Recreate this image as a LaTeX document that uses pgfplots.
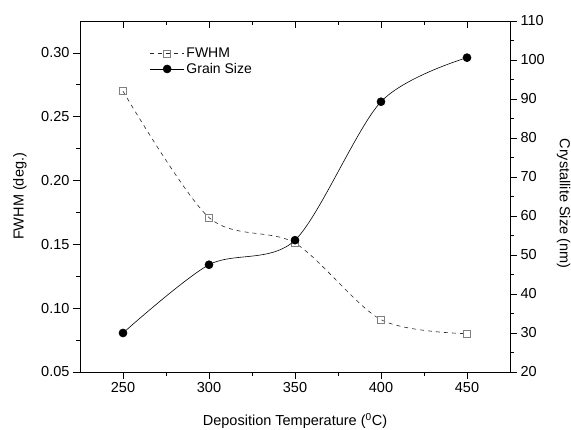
\documentclass[border=0pt]{standalone}
\usepackage{fontspec}
\setmainfont{Liberation Sans}
\usepackage{pgfplots}
\pgfplotsset{compat=1.18}

\pgfplotsset{
  common/.style={
    width=430pt, height=351pt, scale only axis,
    xmin=225, xmax=475,
    xtick={250,300,350,400,450},
    minor x tick num=1,
    tick style={black, line width=0.8pt},
    major tick length=7pt, minor tick length=4pt,
    axis line style={black, line width=0.9pt},
    ticklabel style={font=\fontsize{14.5}{14.5}\selectfont},
    label style={font=\fontsize{14.5}{14.5}\selectfont},
    /pgf/number format/assume math mode=true,
  },
  fwhm/.style={black!85, line width=0.6pt, dash pattern=on 4pt off 4pt, smooth,
    mark=square, mark size=3.5pt, mark options={solid, draw=black!50, fill=white, line width=0.7pt}},
  grain/.style={black, line width=0.6pt, smooth, mark=*, mark size=4pt},
}

\begin{document}
\begin{tikzpicture}
\path[use as bounding box] (-80pt,-58pt) rectangle (491pt,372pt);

% left axis: FWHM
\begin{axis}[common,
  axis x line*=bottom, axis y line*=left, tick align=outside,
  ymin=0.05, ymax=0.325,
  ytick={0.05,0.10,0.15,0.20,0.25,0.30}, minor y tick num=1,
  yticklabel style={/pgf/number format/.cd, fixed, fixed zerofill, precision=2},
  xlabel={Deposition Temperature (\textsuperscript{0}C)},
  xlabel style={at={(axis description cs:0.5,-0.14)}, anchor=center},
  ylabel={FWHM (deg.)},
  ylabel style={at={(axis description cs:-0.14,0.5)}, anchor=center},
]
\addplot[fwhm] coordinates {(250,0.270) (300,0.171) (350,0.151) (400,0.091) (450,0.080)};
\end{axis}

% right axis: crystallite size
\begin{axis}[common,
  axis x line=none, axis y line*=right, tick align=outside,
  ymin=20, ymax=110,
  ytick={20,30,...,110}, minor y tick num=1,
  ylabel={Crystallite Size (nm)},
  ylabel style={rotate=180, at={(axis description cs:1.125,0.48)}, anchor=center},
  legend style={draw=none, fill=none, at={(0.155,0.935)}, anchor=north west,
    font=\fontsize{14}{16}\selectfont, row sep=0pt},
  legend cell align=left,
  legend image code/.code={\draw[mark repeat=2, mark phase=2]
    plot coordinates {(0pt,0pt) (17pt,0pt) (34pt,0pt)};},
]
\addlegendimage{fwhm}
\addlegendentry{FWHM}
\addplot[grain] coordinates {(250,30.0) (300,47.5) (350,53.8) (400,89.3) (450,100.6)};
\addlegendentry{Grain Size}
\end{axis}

% top axis: inward ticks only
\begin{axis}[common,
  axis x line*=top, axis y line=none, tick align=inside,
  xticklabels={}, ymin=0, ymax=1,
]
\end{axis}
\end{tikzpicture}
\end{document}
